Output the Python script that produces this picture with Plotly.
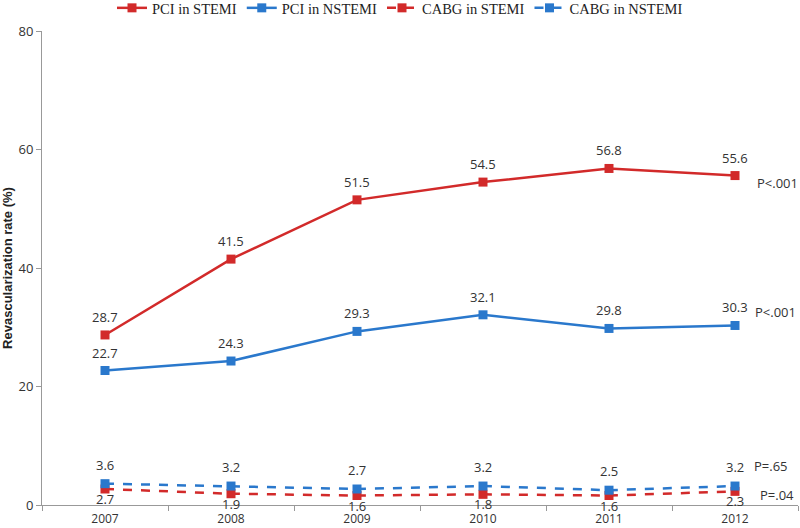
import plotly.graph_objects as go

years = ["2007", "2008", "2009", "2010", "2011", "2012"]
pci_stemi = [28.7, 41.5, 51.5, 54.5, 56.8, 55.6]
pci_nstemi = [22.7, 24.3, 29.3, 32.1, 29.8, 30.3]
cabg_stemi = [2.7, 1.9, 1.6, 1.8, 1.6, 2.3]
cabg_nstemi = [3.6, 3.2, 2.7, 3.2, 2.5, 3.2]
p_labels = ["P<.001", "P<.001", "P=.65", "P=.04"]

RED = "#d22a2a"
BLUE = "#2a78cc"
SANS = "Open Sans, Liberation Sans, sans-serif"
label_font = dict(family=SANS, size=13, color="#333333")

fig = go.Figure()
series = [
    ("PCI in STEMI", pci_stemi, RED, "solid", 18),
    ("PCI in NSTEMI", pci_nstemi, BLUE, "solid", 18),
    ("CABG in STEMI", cabg_stemi, RED, "dash", -10),
    ("CABG in NSTEMI", cabg_nstemi, BLUE, "dash", 19),
]
for name, vals, col, dash, lab_shift in series:
    fig.add_trace(go.Scatter(
        x=years, y=vals, name=name, mode="lines+markers",
        line=dict(color=col, width=2.5, dash=dash),
        marker=dict(symbol="square", size=9, color=col),
    ))
    for i, v in enumerate(vals):
        fig.add_annotation(x=i, y=v, text=f"{v:.1f}", showarrow=False,
                           yshift=lab_shift, font=label_font, borderpad=0)

# P labels, placed relative to the last point of each series
last_idx = len(years) - 1
last_vals = [pci_stemi[-1], pci_nstemi[-1], cabg_nstemi[-1], cabg_stemi[-1]]
xshifts = [20, 18, 17, 23]
yshifts = [-7, 13, 20, -4]
for lab, v, xs, ys in zip(p_labels, last_vals, xshifts, yshifts):
    fig.add_annotation(x=last_idx, y=v, text=lab, showarrow=False, xanchor="left",
                       xshift=xs, yshift=ys, font=label_font)

fig.update_layout(
    width=800, height=528,
    margin=dict(l=42, r=2, t=31, b=23, autoexpand=False),
    plot_bgcolor="white", paper_bgcolor="white",
    showlegend=True,
    legend=dict(orientation="h", x=0.5, xanchor="center", y=0.985, yanchor="middle",
                yref="container", xref="container",
                font=dict(family="Liberation Serif, serif", size=14.5, color="#222222"),
                traceorder="normal", bgcolor="rgba(0,0,0,0)"),
)
fig.update_xaxes(
    type="category", range=[-0.5, 5.5], showline=True, linecolor="#999999", linewidth=1,
    ticks="outside", ticklen=5, tickcolor="#999999", tickson="boundaries",
    ticklabelstandoff=3,
    showgrid=False, tickfont=dict(family=SANS, size=12, color="#333333"),
)
fig.update_yaxes(
    range=[0, 80], dtick=20, showline=True, linecolor="#999999", linewidth=1,
    ticks="outside", ticklen=5, tickcolor="#999999", showgrid=False, zeroline=False,
    tickfont=dict(family=SANS, size=13, color="#333333"),
    title=dict(text="<b>Revascularization rate (%)</b>", standoff=6,
               font=dict(family="Liberation Sans, Arial, sans-serif", size=13, color="#222222")),
)
fig.write_html("out.html", config={"displayModeBar": False},
               post_script="document.body.style.margin='0';document.body.style.overflow='hidden';")
